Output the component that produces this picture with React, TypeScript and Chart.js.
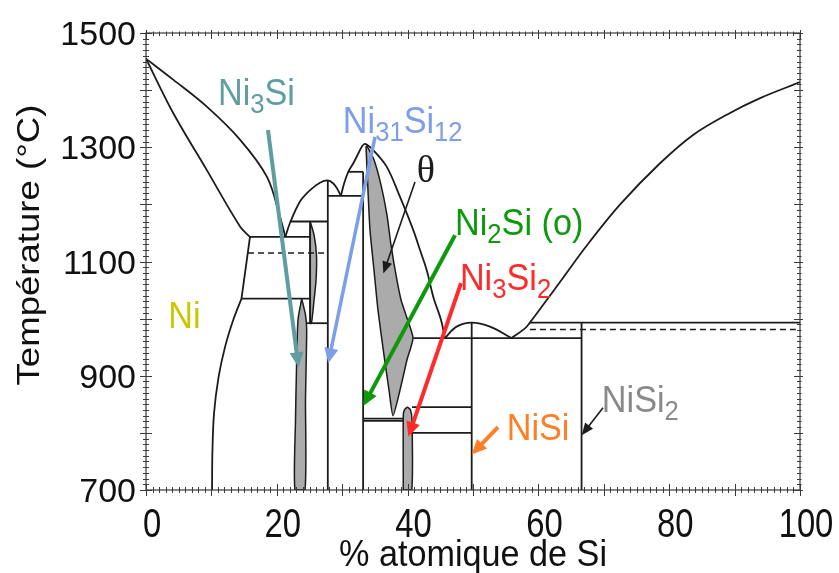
import React, { useEffect, useRef } from "react";
import { Chart, registerables } from "chart.js";

Chart.register(...registerables);

type Pt = [number, number];

// ---- axes ----
const xTickValues = [0, 20, 40, 60, 80, 100];
const yTickValues = [700, 900, 1100, 1300, 1500];
const xMinorStep = 1;
const yMinorStep = 10;

// ---- Ni-rich side: liquidus, solidus and solvus of (Ni) ----
const liquidusNi: Pt[] = [[0, 1455], [4.2, 1418], [9.3, 1371], [14.4, 1313], [18.5, 1248], [20.5, 1178], [21.3, 1143]];
const solidusNi: Pt[] = [[0, 1455], [4.2, 1359], [9.3, 1260], [14.4, 1161], [15.9, 1143]];
const edgeNi: Pt[] = [[15.9, 1143], [14.6, 1035]];
const solvusNi: Pt[] = [[14.6, 1035], [13.35, 998], [12.1, 951], [11.1, 898], [10.4, 834], [10.15, 764], [10.1, 700]];

// ---- liquidus from the Ni/Ni3Si eutectic over Ni31Si12 and Ni2Si ----
const liquidusGamma: Pt[] = [[21.3, 1143], [22.0, 1167], [23.55, 1205], [25.1, 1225], [26.6, 1238], [27.8, 1242], [28.6, 1237], [29.2, 1228], [29.8, 1215]];
const liquidusDelta: Pt[] = [[29.8, 1215], [30.3, 1237], [30.93, 1257], [31.7, 1272], [32.46, 1289], [33.0, 1301], [33.5, 1306], [34.75, 1295], [36.8, 1266], [38.84, 1213], [40.87, 1155], [41.9, 1120], [42.92, 1085], [43.93, 1038], [45.1, 998], [45.7, 966]];

// ---- NiSi dome and Si-rich liquidus ----
const domeNiSi: Pt[] = [[45.7, 966], [47.5, 986], [49.8, 993], [52.6, 986], [55.9, 966]];
const liquidusSi: Pt[] = [[55.9, 966], [57.95, 983], [58.7, 993], [61.3, 1033], [63.3, 1064], [67.4, 1128], [72.5, 1200], [78.6, 1272], [83.7, 1322], [88.8, 1357], [93.9, 1386], [100, 1414]];

// ---- invariant isotherms ----
const isotherms: Pt[][] = [
  [[15.9, 1143], [25.1, 1143]],
  [[14.6, 1035], [25.1, 1035]],
  [[22.0, 1170], [27.8, 1170]],
  [[24.6, 992], [27.8, 992]],
  [[27.8, 1215], [33.2, 1215]],
  [[30.93, 1257], [33.2, 1257]],
  [[33.2, 825], [39.34, 825]],
  [[33.2, 821], [39.34, 821]],
  [[40.67, 845], [49.8, 845]],
  [[40.63, 800], [49.8, 800]],
  [[40.87, 966], [66.6, 966]],
  [[58.7, 993], [100, 993]],
];
const transitions: Pt[][] = [
  [[15.6, 1115], [27.8, 1115]],
  [[58.7, 981], [100, 981]],
];

// ---- line compounds ----
const compounds: Pt[][] = [
  [[25.1, 1170], [25.1, 992]],
  [[27.8, 1242], [27.8, 700]],
  [[33.2, 1257], [33.2, 700]],
  [[49.8, 993], [49.8, 700]],
  [[66.6, 993], [66.6, 700]],
];

// ---- single-phase fields with a composition range ----
const fieldNi3Si: Pt[] = [[23.81, 1035], [23.24, 998], [23.04, 928], [22.86, 823], [22.78, 700], [24.31, 700], [24.39, 858], [24.57, 980], [24.39, 1006], [23.81, 1035]];
const fieldNi31Si12: Pt[] = [[25.1, 1170], [25.7, 1146], [26.07, 1111], [26.0, 1068], [25.7, 1033], [25.3, 992], [25.1, 992], [25.1, 1170]];
const fieldTheta: Pt[] = [[33.64, 1302], [33.94, 1225], [34.25, 1155], [34.86, 1085], [35.47, 1015], [36.39, 936], [37.16, 875], [37.77, 830], [38.84, 875], [39.91, 928], [40.83, 966], [39.91, 1001], [38.99, 1033], [38.23, 1076], [37.46, 1129], [36.85, 1181], [35.93, 1234], [34.86, 1278], [33.79, 1302], [33.64, 1302]];
const fieldNi3Si2: Pt[] = [[39.34, 700], [39.34, 831], [39.55, 841], [39.98, 845], [40.44, 840], [40.67, 823], [40.63, 700], [39.34, 700]];

// ---- colours ----
const INK = "#1c1c1c";
const SHADE = "#ababab";
const FRAME = "#3a3a3a";
const TEAL = "#5f9ea0";
const BLUE = "#7d9ee8";
const GREEN = "#0c9a0c";
const RED = "#ff2b2b";
const ORANGE = "#ff7f27";
const GREY = "#8a8a8a";
const OLIVE = "#c9c800";

const SANS = "'Liberation Sans', Arial, Helvetica, sans-serif";
const SERIF = "'Liberation Serif', 'Times New Roman', serif";

// ---- phase names and pointer arrows ----
type Part = [string, boolean];
const phaseLabels: { parts: Part[]; at: Pt; color: string }[] = [
  { parts: [["Ni", false], ["3", true], ["Si", false]], at: [11.0, 1374], color: TEAL },
  { parts: [["Ni", false], ["31", true], ["Si", false], ["12", true]], at: [30.1, 1325], color: BLUE },
  { parts: [["Ni", false], ["2", true], ["Si (o)", false]], at: [47.25, 1146], color: GREEN },
  { parts: [["Ni", false], ["3", true], ["Si", false], ["2", true]], at: [48.0, 1050], color: RED },
  { parts: [["NiSi", false]], at: [55.15, 787], color: ORANGE },
  { parts: [["NiSi", false], ["2", true]], at: [69.7, 837], color: GREY },
  { parts: [["Ni", false]], at: [3.4, 983], color: OLIVE },
];
const thetaLabel = { text: "θ", at: [41.4, 1239] as Pt };

const arrows: { from: Pt; to: Pt; color: string; width: number }[] = [
  { from: [18.65, 1330], to: [23.32, 915], color: TEAL, width: 4 },
  { from: [35.02, 1318], to: [27.87, 922], color: BLUE, width: 3.5 },
  { from: [41.13, 1239], to: [36.29, 1079], color: INK, width: 1.6 },
  { from: [47.25, 1146], to: [33.23, 847], color: GREEN, width: 4 },
  { from: [48.17, 1062], to: [40.11, 793], color: RED, width: 4 },
  { from: [53.82, 810], to: [49.8, 762], color: ORANGE, width: 4 },
  { from: [69.88, 844], to: [66.62, 796], color: INK, width: 1.6 },
];

const toXY = (arr: Pt[]) => arr.map(([x, y]) => ({ x, y }));

const curve = (arr: Pt[], extra: any = {}) => ({
  data: toXY(arr),
  showLine: true,
  pointRadius: 0,
  borderColor: INK,
  borderWidth: 1.8,
  fill: false,
  tension: 0.35,
  ...extra,
});
const straight = (arr: Pt[], extra: any = {}) => curve(arr, { tension: 0, ...extra });
const field = (arr: Pt[], tension = 0.25) =>
  curve(arr, { tension, fill: "shape", backgroundColor: SHADE, borderWidth: 1.5 });

function drawRich(ctx: CanvasRenderingContext2D, parts: Part[], x: number, y: number, size: number, sx: number, color: string) {
  ctx.save();
  ctx.translate(x, y);
  ctx.scale(sx, 1);
  ctx.fillStyle = color;
  ctx.textAlign = "left";
  ctx.textBaseline = "alphabetic";
  let cx = 0;
  for (const [t, sub] of parts) {
    const fs = sub ? size * 0.75 : size;
    ctx.font = `${fs}px ${SANS}`;
    ctx.fillText(t, cx, sub ? size * 0.22 : 0);
    cx += ctx.measureText(t).width;
  }
  ctx.restore();
}

function drawArrow(ctx: CanvasRenderingContext2D, x1: number, y1: number, x2: number, y2: number, color: string, width: number) {
  const ang = Math.atan2(y2 - y1, x2 - x1);
  const thick = width > 2;
  const hl = thick ? 15 : 12;
  const hw = thick ? 14 : 10;
  const c = Math.cos(ang);
  const s = Math.sin(ang);
  const bx = x2 - hl * c;
  const by = y2 - hl * s;
  ctx.save();
  ctx.strokeStyle = color;
  ctx.fillStyle = color;
  ctx.lineWidth = width;
  ctx.lineCap = "butt";
  ctx.beginPath();
  ctx.moveTo(x1, y1);
  ctx.lineTo(bx + c * 2, by + s * 2);
  ctx.stroke();
  ctx.beginPath();
  ctx.moveTo(x2, y2);
  ctx.lineTo(bx - (hw / 2) * s, by + (hw / 2) * c);
  ctx.lineTo(bx + (hw / 2) * s, by - (hw / 2) * c);
  ctx.closePath();
  ctx.fill();
  ctx.restore();
}

const decor = {
  id: "decor",
  afterDatasetsDraw(chart: any) {
    const { ctx, chartArea: a, scales } = chart;
    const xs = scales.x;
    const ys = scales.y;
    const X = (v: number) => xs.getPixelForValue(v);
    const Y = (v: number) => ys.getPixelForValue(v);

    ctx.save();
    // frame
    ctx.strokeStyle = FRAME;
    ctx.lineWidth = 1.2;
    ctx.strokeRect(a.left, a.top, a.right - a.left, a.bottom - a.top);

    // tick marks on all four sides
    ctx.lineWidth = 1;
    ctx.beginPath();
    for (let v = xs.min; v <= xs.max + 1e-6; v += xMinorStep) {
      const px = Math.round(X(v)) + 0.5;
      const len = Math.abs(v % 10) < 1e-6 ? 6 : 3;
      ctx.moveTo(px, a.bottom - len);
      ctx.lineTo(px, a.bottom + len);
      ctx.moveTo(px, a.top - len * 0.5);
      ctx.lineTo(px, a.top + len);
    }
    for (let v = ys.min; v <= ys.max + 1e-6; v += yMinorStep) {
      const py = Math.round(Y(v)) + 0.5;
      const len = Math.abs(v % 100) < 1e-6 ? 6 : 3;
      ctx.moveTo(a.left - len, py);
      ctx.lineTo(a.left + len, py);
      ctx.moveTo(a.right - len, py);
      ctx.lineTo(a.right + len * 0.5, py);
    }
    ctx.stroke();

    // tick labels
    ctx.fillStyle = "#111";
    ctx.font = `34px ${SANS}`;
    ctx.textAlign = "right";
    ctx.textBaseline = "alphabetic";
    for (const t of ys.ticks) {
      ctx.fillText(String(t.value), a.left - 10, Y(t.value) + 12);
    }
    for (const t of xs.ticks) {
      ctx.save();
      ctx.translate(X(t.value) + 6, a.bottom + 47);
      ctx.scale(0.82, 1);
      ctx.font = `40px ${SANS}`;
      ctx.textAlign = "center";
      ctx.fillText(String(t.value), 0, 0);
      ctx.restore();
    }

    // axis titles
    ctx.save();
    ctx.translate(473, 566);
    ctx.scale(0.95, 1);
    ctx.font = `36px ${SANS}`;
    ctx.textAlign = "center";
    ctx.fillText("% atomique de Si", 0, 0);
    ctx.restore();

    ctx.save();
    ctx.translate(39, 245);
    ctx.rotate(-Math.PI / 2);
    ctx.scale(1.18, 1);
    ctx.font = `31px ${SANS}`;
    ctx.textAlign = "center";
    ctx.fillText("Température (°C)", 0, 0);
    ctx.restore();

    // pointer arrows and phase names
    for (const ar of arrows) {
      drawArrow(ctx, X(ar.from[0]), Y(ar.from[1]), X(ar.to[0]), Y(ar.to[1]), ar.color, ar.width);
    }
    for (const lb of phaseLabels) {
      drawRich(ctx, lb.parts, X(lb.at[0]), Y(lb.at[1]), 36, 0.95, lb.color);
    }
    ctx.fillStyle = INK;
    ctx.font = `38px ${SERIF}`;
    ctx.textAlign = "left";
    ctx.fillText(thetaLabel.text, X(thetaLabel.at[0]), Y(thetaLabel.at[1]));
    ctx.restore();
  },
};

export default function App() {
  const ref = useRef<HTMLCanvasElement>(null);

  useEffect(() => {
    const canvas = ref.current;
    if (!canvas) return;
    const datasets: any[] = [
      curve(liquidusNi),
      curve(solidusNi),
      straight(edgeNi),
      curve(solvusNi),
      curve(liquidusGamma),
      curve(liquidusDelta),
      curve(domeNiSi),
      curve(liquidusSi),
      ...isotherms.map((s) => straight(s)),
      ...transitions.map((s) => straight(s, { borderDash: [6, 4], borderWidth: 1.5 })),
      ...compounds.map((s) => straight(s)),
      field(fieldNi3Si, 0.2),
      field(fieldNi31Si12, 0.3),
      field(fieldTheta, 0.2),
      field(fieldNi3Si2, 0.2),
    ];

    const chart = new Chart(canvas, {
      type: "scatter",
      data: { datasets },
      options: {
        animation: false,
        responsive: false,
        layout: { padding: { left: 0, top: 33, right: 39, bottom: 0 } },
        plugins: { legend: { display: false }, tooltip: { enabled: false } },
        scales: {
          x: {
            type: "linear",
            min: 0,
            max: 100,
            ticks: { display: false, stepSize: 20 },
            afterBuildTicks: (s: any) => {
              s.ticks = xTickValues.map((value) => ({ value }));
            },
            grid: { display: false },
            border: { display: false },
            afterFit: (s: any) => {
              s.height = 83;
            },
          },
          y: {
            type: "linear",
            min: 700,
            max: 1500,
            ticks: { display: false, stepSize: 200 },
            afterBuildTicks: (s: any) => {
              s.ticks = yTickValues.map((value) => ({ value }));
            },
            grid: { display: false },
            border: { display: false },
            afterFit: (s: any) => {
              s.width = 146;
            },
          },
        },
      } as any,
      plugins: [decor],
    });
    return () => chart.destroy();
  }, []);

  return (
    <div style={{ position: "absolute", left: 0, top: 0, width: 839, height: 573, background: "#fff" }}>
      <canvas ref={ref} width={839} height={573} style={{ display: "block" }} />
    </div>
  );
}
